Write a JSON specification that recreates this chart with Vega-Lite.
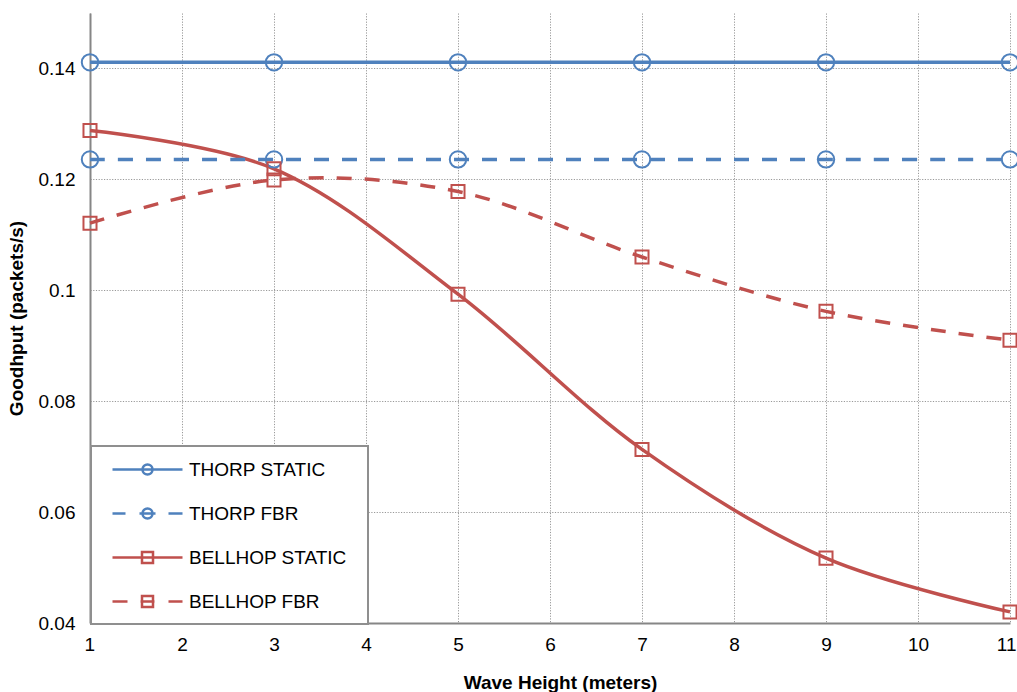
{
  "$schema": "https://vega.github.io/schema/vega-lite/v6.json",
  "width": 920,
  "height": 610,
  "autosize": {"type": "none"},
  "padding": {"left": 90, "top": 13, "right": 7, "bottom": 69},
  "background": "white",
  "config": {
    "view": {"stroke": null},
    "font": "Liberation Sans",
    "axis": {
      "domainColor": "#868686",
      "domainWidth": 2,
      "ticks": false,
      "grid": true,
      "gridColor": "#999999",
      "gridDash": [1.2, 1.5],
      "gridWidth": 1,
      "labelFont": "Liberation Sans",
      "labelFontSize": 19,
      "labelColor": "black",
      "labelFlush": false,
      "titleFont": "Liberation Sans",
      "titleFontSize": 19,
      "titleFontWeight": "bold",
      "titleColor": "black"
    }
  },
  "data": {
    "values": [
      {"x": 1, "y": 0.1411, "series": "THORP STATIC"},
      {"x": 3, "y": 0.1411, "series": "THORP STATIC"},
      {"x": 5, "y": 0.1411, "series": "THORP STATIC"},
      {"x": 7, "y": 0.1411, "series": "THORP STATIC"},
      {"x": 9, "y": 0.1411, "series": "THORP STATIC"},
      {"x": 11, "y": 0.1411, "series": "THORP STATIC"},
      {"x": 1, "y": 0.1236, "series": "THORP FBR"},
      {"x": 3, "y": 0.1236, "series": "THORP FBR"},
      {"x": 5, "y": 0.1236, "series": "THORP FBR"},
      {"x": 7, "y": 0.1236, "series": "THORP FBR"},
      {"x": 9, "y": 0.1236, "series": "THORP FBR"},
      {"x": 11, "y": 0.1236, "series": "THORP FBR"},
      {"x": 1, "y": 0.1288, "series": "BELLHOP STATIC"},
      {"x": 3, "y": 0.1219, "series": "BELLHOP STATIC"},
      {"x": 5, "y": 0.0993, "series": "BELLHOP STATIC"},
      {"x": 7, "y": 0.0713, "series": "BELLHOP STATIC"},
      {"x": 9, "y": 0.0517, "series": "BELLHOP STATIC"},
      {"x": 11, "y": 0.042, "series": "BELLHOP STATIC"},
      {"x": 1, "y": 0.1121, "series": "BELLHOP FBR"},
      {"x": 3, "y": 0.1199, "series": "BELLHOP FBR"},
      {"x": 5, "y": 0.1178, "series": "BELLHOP FBR"},
      {"x": 7, "y": 0.106, "series": "BELLHOP FBR"},
      {"x": 9, "y": 0.0962, "series": "BELLHOP FBR"},
      {"x": 11, "y": 0.091, "series": "BELLHOP FBR"}
    ]
  },
  "encoding": {
    "x": {
      "field": "x",
      "type": "quantitative",
      "scale": {"domain": [1, 11], "nice": false, "zero": false},
      "axis": {
        "title": "Wave Height (meters)",
        "values": [1, 2, 3, 4, 5, 6, 7, 8, 9, 10, 11],
        "labelPadding": 12,
        "labelFlush": true,
        "labelFlushOffset": 6,
        "titlePadding": 19,
        "titleX": 470
      }
    },
    "y": {
      "field": "y",
      "type": "quantitative",
      "scale": {"domain": [0.04, 0.15], "nice": false, "zero": false},
      "axis": {
        "title": "Goodhput (packets/s)",
        "values": [0.04, 0.06, 0.08, 0.1, 0.12, 0.14],
        "format": ".2~f",
        "labelPadding": 15,
        "titlePadding": 12
      }
    },
    "color": {
      "field": "series",
      "type": "nominal",
      "scale": {
        "domain": ["THORP STATIC", "THORP FBR", "BELLHOP STATIC", "BELLHOP FBR"],
        "range": ["#4F81BD", "#4F81BD", "#C0504D", "#C0504D"]
      },
      "legend": {
        "title": null,
        "orient": "none",
        "legendX": 1,
        "legendY": 433,
        "fillColor": "white",
        "strokeColor": "#8f8f8f",
        "padding": 12,
        "rowPadding": 22,
        "labelFont": "Liberation Sans",
        "labelFontSize": 19,
        "labelColor": "black",
        "labelOffset": 63,
        "symbolSize": 400,
        "symbolStrokeWidth": 2.5,
        "encode": {
          "legend": {"update": {"strokeWidth": {"value": 2}}},
          "symbols": {
            "update": {
              "shape": {"signal": "datum.value === 'THORP STATIC' ? 'M-0.2,0H6.8M2.8,0A0.5,0.5 0 1,0 3.8,0A0.5,0.5 0 1,0 2.8,0M23.6,0' : datum.value === 'THORP FBR' ? 'M-0.2,0H1.1M2.5,0H4.1M5.4,0H6.8M2.8,0A0.5,0.5 0 1,0 3.8,0A0.5,0.5 0 1,0 2.8,0M23.6,0' : datum.value === 'BELLHOP STATIC' ? 'M-0.2,0H6.8M2.75,-0.55H3.85V0.55H2.75ZM23.6,0' : 'M-0.2,0H1.3M2.6,0H4M5.4,0H6.8M2.75,-0.55H3.85V0.55H2.75ZM23.6,0'"},
              "strokeDash": {"value": []},
              "fill": {"value": "transparent"},
              "strokeWidth": {"value": 2.5},
              "opacity": {"value": 1}
            }
          }
        }
      }
    }
  },
  "layer": [
    {
      "transform": [{"filter": {"field": "series", "oneOf": ["THORP STATIC", "BELLHOP STATIC"]}}],
      "mark": {"type": "line", "interpolate": "catmull-rom", "strokeWidth": 3.5}
    },
    {
      "transform": [{"filter": {"field": "series", "oneOf": ["THORP FBR", "BELLHOP FBR"]}}],
      "mark": {"type": "line", "interpolate": "catmull-rom", "strokeWidth": 3.5, "strokeDash": [15, 13]}
    },
    {
      "transform": [{"filter": {"field": "series", "oneOf": ["THORP STATIC", "THORP FBR"]}}],
      "mark": {"type": "point", "shape": "circle", "size": 270, "filled": false, "strokeWidth": 2, "opacity": 1}
    },
    {
      "transform": [{"filter": {"field": "series", "oneOf": ["BELLHOP STATIC", "BELLHOP FBR"]}}],
      "mark": {"type": "point", "shape": "square", "size": 170, "filled": false, "strokeWidth": 2, "opacity": 1}
    }
  ]
}
